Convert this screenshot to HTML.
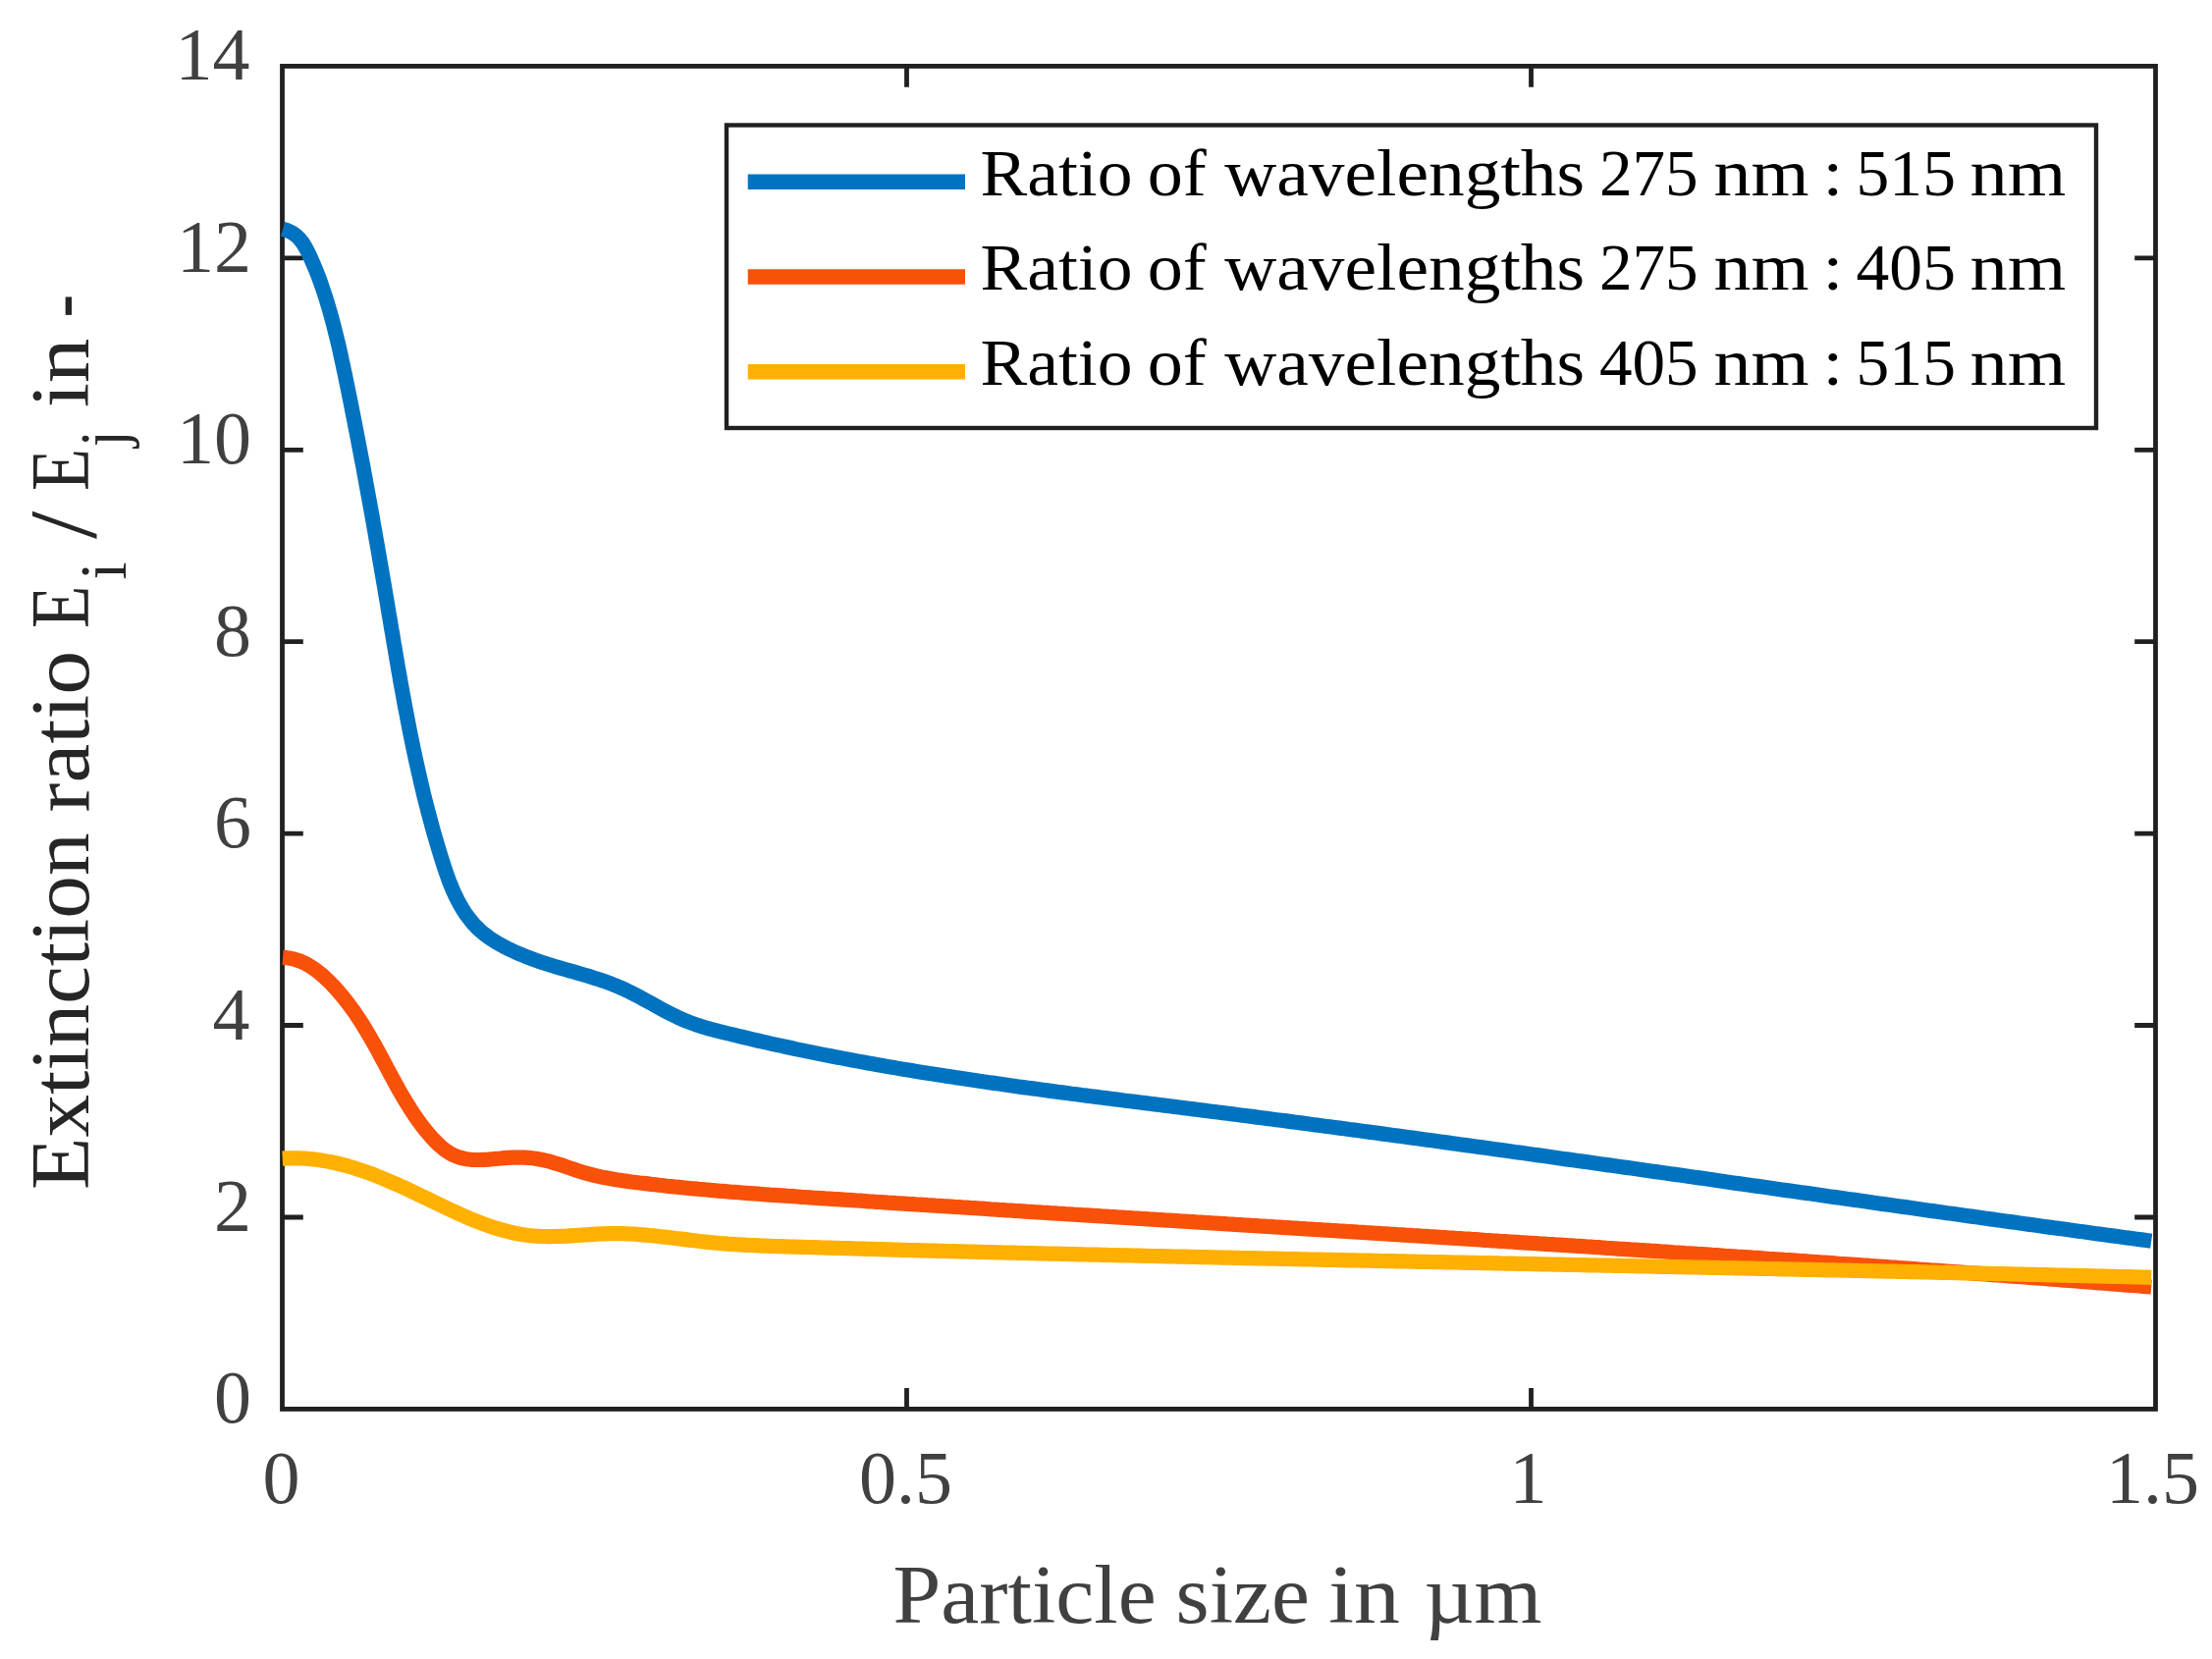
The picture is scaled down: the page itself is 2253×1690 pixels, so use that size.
<!DOCTYPE html>
<html lang="en"><head><meta charset="utf-8"><title>Extinction ratio versus particle size</title>
<style>html,body{margin:0;padding:0;background:#fff;overflow:hidden}svg{display:block}text{font-family:'Liberation Serif', 'DejaVu Serif', serif;white-space:pre}</style></head><body>
<svg width="2253" height="1690" viewBox="0 0 2253 1690">
<rect x="0" y="0" width="2253" height="1690" fill="#ffffff"/>
<g fill="none" stroke="#202020" stroke-width="4.8" stroke-linecap="butt" stroke-linejoin="miter">
<rect x="287.5" y="67.4" width="1908.0" height="1368.0"/>
<path d="M923.5,1435.4 v-21.3 M923.5,67.4 v21.3 M1559.5,1435.4 v-21.3 M1559.5,67.4 v21.3 M287.5,1240.0 h21.3 M2195.5,1240.0 h-21.3 M287.5,1044.5 h21.3 M2195.5,1044.5 h-21.3 M287.5,849.1 h21.3 M2195.5,849.1 h-21.3 M287.5,653.7 h21.3 M2195.5,653.7 h-21.3 M287.5,458.3 h21.3 M2195.5,458.3 h-21.3 M287.5,262.8 h21.3 M2195.5,262.8 h-21.3"/>
</g>
<g fill="none" stroke-width="15.2" stroke-linecap="butt" stroke-linejoin="round">
<path stroke="#0073C0" d="M288.1,233.4 L292.9,234.8 L297.4,237.0 L301.5,239.9 L305.1,243.4 L308.2,247.3 L310.8,251.5 L313.2,255.9 L315.4,260.4 L317.4,265.0 L319.4,269.6 L321.3,274.2 L323.2,278.8 L325.0,283.5 L326.7,288.2 L328.3,292.9 L329.9,297.6 L331.5,302.4 L333.0,307.2 L334.4,311.9 L335.8,316.7 L337.2,321.6 L338.5,326.4 L339.8,331.2 L341.0,336.1 L342.2,340.9 L343.4,345.8 L344.6,350.6 L345.7,355.5 L346.8,360.4 L347.8,365.3 L348.9,370.1 L349.9,375.0 L351.0,379.9 L352.0,384.8 L353.0,389.7 L354.0,394.6 L355.0,399.5 L356.0,404.4 L357.0,409.3 L358.0,414.2 L358.9,419.1 L359.9,424.0 L360.9,428.9 L361.8,433.8 L362.8,438.7 L363.7,443.6 L364.7,448.5 L365.6,453.5 L366.6,458.4 L367.5,463.3 L368.4,468.2 L369.4,473.1 L370.3,478.0 L371.2,482.9 L372.1,487.8 L373.0,492.8 L373.9,497.7 L374.8,502.6 L375.7,507.5 L376.6,512.4 L377.5,517.3 L378.4,522.3 L379.3,527.2 L380.1,532.1 L381.0,537.0 L381.9,541.9 L382.7,546.9 L383.6,551.8 L384.5,556.7 L385.3,561.6 L386.2,566.6 L387.0,571.5 L387.9,576.4 L388.7,581.3 L389.6,586.3 L390.4,591.2 L391.3,596.1 L392.1,601.1 L392.9,606.0 L393.8,610.9 L394.6,615.8 L395.4,620.8 L396.2,625.7 L397.1,630.6 L397.9,635.6 L398.7,640.5 L399.6,645.4 L400.4,650.3 L401.2,655.3 L402.1,660.2 L402.9,665.1 L403.7,670.1 L404.6,675.0 L405.4,679.9 L406.3,684.8 L407.2,689.8 L408.0,694.7 L408.9,699.6 L409.8,704.5 L410.7,709.4 L411.6,714.4 L412.5,719.3 L413.4,724.2 L414.4,729.1 L415.3,734.0 L416.3,738.9 L417.2,743.8 L418.2,748.7 L419.2,753.6 L420.2,758.5 L421.2,763.4 L422.3,768.3 L423.3,773.2 L424.4,778.1 L425.5,782.9 L426.6,787.8 L427.7,792.7 L428.8,797.6 L430.0,802.4 L431.1,807.3 L432.3,812.1 L433.5,817.0 L434.8,821.8 L436.0,826.7 L437.3,831.5 L438.6,836.3 L439.9,841.2 L441.2,846.0 L442.6,850.8 L444.0,855.6 L445.4,860.4 L446.8,865.2 L448.3,870.0 L449.7,874.7 L451.3,879.5 L452.8,884.2 L454.4,889.0 L456.1,893.7 L457.8,898.4 L459.7,903.0 L461.6,907.6 L463.7,912.2 L465.9,916.7 L468.3,921.1 L470.8,925.4 L473.4,929.6 L476.3,933.7 L479.4,937.7 L482.6,941.5 L486.1,945.1 L489.7,948.5 L493.5,951.7 L497.5,954.7 L501.7,957.5 L505.9,960.2 L510.3,962.6 L514.7,965.0 L519.1,967.2 L523.7,969.3 L528.2,971.4 L532.9,973.3 L537.5,975.1 L542.2,976.9 L546.9,978.6 L551.6,980.2 L556.4,981.7 L561.1,983.2 L565.9,984.7 L570.7,986.1 L575.5,987.5 L580.3,988.9 L585.1,990.2 L589.9,991.6 L594.7,993.0 L599.5,994.4 L604.3,995.9 L609.1,997.4 L613.8,999.0 L618.5,1000.7 L623.2,1002.4 L627.8,1004.3 L632.4,1006.3 L637.0,1008.3 L641.5,1010.5 L645.9,1012.8 L650.4,1015.1 L654.8,1017.4 L659.2,1019.8 L663.5,1022.2 L667.9,1024.7 L672.3,1027.1 L676.7,1029.4 L681.1,1031.7 L685.6,1034.0 L690.1,1036.2 L694.6,1038.2 L699.2,1040.2 L703.9,1042.0 L708.6,1043.7 L713.4,1045.2 L718.1,1046.7 L723.0,1048.1 L727.8,1049.3 L732.6,1050.6 L737.5,1051.8 L742.3,1053.0 L747.2,1054.2 L752.0,1055.4 L756.9,1056.5 L761.8,1057.7 L766.6,1058.8 L771.5,1060.0 L776.4,1061.1 L781.2,1062.2 L786.1,1063.3 L791.0,1064.4 L795.9,1065.4 L800.8,1066.5 L805.7,1067.5 L810.5,1068.6 L815.4,1069.6 L820.3,1070.6 L825.2,1071.6 L830.1,1072.6 L835.0,1073.6 L839.9,1074.6 L844.8,1075.5 L849.7,1076.5 L854.7,1077.4 L859.6,1078.4 L864.5,1079.3 L869.4,1080.2 L874.3,1081.1 L879.2,1082.0 L884.1,1082.9 L889.1,1083.8 L894.0,1084.7 L898.9,1085.5 L903.8,1086.4 L908.8,1087.2 L913.7,1088.1 L918.6,1088.9 L923.5,1089.7 L928.5,1090.6 L933.4,1091.4 L938.3,1092.2 L943.3,1093.0 L948.2,1093.7 L953.1,1094.5 L958.1,1095.3 L963.0,1096.1 L968.0,1096.8 L972.9,1097.6 L977.9,1098.3 L982.8,1099.1 L987.7,1099.8 L992.7,1100.5 L997.6,1101.3 L1002.6,1102.0 L1007.5,1102.7 L1012.5,1103.4 L1017.4,1104.1 L1022.4,1104.8 L1027.3,1105.5 L1032.3,1106.2 L1037.2,1106.9 L1042.2,1107.6 L1047.1,1108.2 L1052.1,1108.9 L1057.0,1109.6 L1062.0,1110.3 L1066.9,1110.9 L1071.9,1111.6 L1076.8,1112.2 L1081.8,1112.9 L1086.8,1113.5 L1091.7,1114.2 L1096.7,1114.8 L1101.6,1115.5 L1106.6,1116.1 L1111.5,1116.7 L1116.5,1117.4 L1121.5,1118.0 L1126.4,1118.6 L1131.4,1119.3 L1136.3,1119.9 L1141.3,1120.5 L1146.3,1121.2 L1151.2,1121.8 L1156.2,1122.4 L1161.1,1123.0 L1166.1,1123.6 L1171.1,1124.3 L1176.0,1124.9 L1181.0,1125.5 L1185.9,1126.1 L1190.9,1126.8 L1195.9,1127.4 L1200.8,1128.0 L1205.8,1128.6 L1210.7,1129.2 L1215.7,1129.9 L1220.7,1130.5 L1225.6,1131.1 L1230.6,1131.7 L1235.5,1132.4 L1240.5,1133.0 L1245.4,1133.6 L1250.4,1134.3 L1255.4,1134.9 L1260.3,1135.5 L1265.3,1136.2 L1270.2,1136.8 L1275.2,1137.4 L1280.2,1138.1 L1285.1,1138.7 L1290.1,1139.4 L1295.0,1140.0 L1300.0,1140.7 L1304.9,1141.3 L1309.9,1141.9 L1314.9,1142.6 L1319.8,1143.2 L1324.8,1143.9 L1329.7,1144.5 L1334.7,1145.2 L1339.6,1145.9 L1344.6,1146.5 L1349.5,1147.2 L1354.5,1147.8 L1359.5,1148.5 L1364.4,1149.1 L1369.4,1149.8 L1374.3,1150.5 L1379.3,1151.1 L1384.2,1151.8 L1389.2,1152.5 L1394.1,1153.1 L1399.1,1153.8 L1404.0,1154.4 L1409.0,1155.1 L1413.9,1155.8 L1418.9,1156.5 L1423.9,1157.1 L1428.8,1157.8 L1433.8,1158.5 L1438.7,1159.1 L1443.7,1159.8 L1448.6,1160.5 L1453.6,1161.2 L1458.5,1161.8 L1463.5,1162.5 L1468.4,1163.2 L1473.4,1163.9 L1478.3,1164.6 L1483.3,1165.2 L1488.2,1165.9 L1493.2,1166.6 L1498.1,1167.3 L1503.1,1168.0 L1508.0,1168.6 L1513.0,1169.3 L1518.0,1170.0 L1522.9,1170.7 L1527.9,1171.4 L1532.8,1172.1 L1537.8,1172.8 L1542.7,1173.5 L1547.7,1174.1 L1552.6,1174.8 L1557.6,1175.5 L1562.5,1176.2 L1567.5,1176.9 L1572.4,1177.6 L1577.4,1178.3 L1582.3,1179.0 L1587.3,1179.7 L1592.2,1180.4 L1597.2,1181.1 L1602.1,1181.8 L1607.1,1182.5 L1612.0,1183.1 L1617.0,1183.8 L1621.9,1184.5 L1626.9,1185.2 L1631.8,1185.9 L1636.8,1186.6 L1641.7,1187.3 L1646.7,1188.0 L1651.6,1188.7 L1656.6,1189.4 L1661.5,1190.1 L1666.5,1190.8 L1671.4,1191.5 L1676.4,1192.2 L1681.3,1192.9 L1686.3,1193.6 L1691.2,1194.3 L1696.2,1195.0 L1701.1,1195.7 L1706.1,1196.4 L1711.0,1197.1 L1716.0,1197.8 L1720.9,1198.5 L1725.8,1199.2 L1730.8,1199.9 L1735.7,1200.6 L1740.7,1201.3 L1745.6,1202.0 L1750.6,1202.7 L1755.5,1203.4 L1760.5,1204.2 L1765.4,1204.9 L1770.4,1205.6 L1775.3,1206.3 L1780.3,1207.0 L1785.2,1207.7 L1790.2,1208.4 L1795.1,1209.1 L1800.1,1209.8 L1805.0,1210.5 L1810.0,1211.2 L1814.9,1211.9 L1819.9,1212.6 L1824.8,1213.3 L1829.8,1214.0 L1834.7,1214.7 L1839.7,1215.4 L1844.6,1216.1 L1849.6,1216.8 L1854.5,1217.5 L1859.5,1218.2 L1864.4,1218.9 L1869.4,1219.6 L1874.3,1220.3 L1879.3,1221.0 L1884.2,1221.7 L1889.2,1222.4 L1894.1,1223.1 L1899.1,1223.8 L1904.0,1224.5 L1909.0,1225.2 L1913.9,1225.9 L1918.9,1226.6 L1923.8,1227.3 L1928.8,1228.0 L1933.7,1228.7 L1938.7,1229.4 L1943.6,1230.1 L1948.6,1230.8 L1953.5,1231.5 L1958.5,1232.2 L1963.4,1232.9 L1968.4,1233.6 L1973.3,1234.3 L1978.3,1235.0 L1983.2,1235.7 L1988.2,1236.3 L1993.1,1237.0 L1998.1,1237.7 L2003.0,1238.4 L2008.0,1239.1 L2012.9,1239.8 L2017.9,1240.5 L2022.8,1241.2 L2027.8,1241.9 L2032.7,1242.6 L2037.7,1243.2 L2042.6,1243.9 L2047.6,1244.6 L2052.5,1245.3 L2057.5,1246.0 L2062.4,1246.7 L2067.4,1247.4 L2072.3,1248.0 L2077.3,1248.7 L2082.2,1249.4 L2087.2,1250.1 L2092.1,1250.8 L2097.1,1251.4 L2102.0,1252.1 L2107.0,1252.8 L2111.9,1253.5 L2116.9,1254.2 L2121.9,1254.8 L2126.8,1255.5 L2131.8,1256.2 L2136.7,1256.9 L2141.7,1257.5 L2146.6,1258.2 L2151.6,1258.9 L2156.5,1259.5 L2161.5,1260.2 L2166.4,1260.9 L2171.4,1261.5 L2176.3,1262.2 L2181.3,1262.9 L2186.2,1263.5 L2191.2,1264.2"/>
<path stroke="#F9500A" d="M288.1,975.4 L292.1,975.7 L296.1,976.3 L300.0,977.2 L303.9,978.4 L307.6,979.9 L311.3,981.6 L314.8,983.6 L318.2,985.7 L321.5,988.0 L324.7,990.5 L327.8,993.0 L330.8,995.7 L333.7,998.5 L336.6,1001.3 L339.4,1004.2 L342.1,1007.2 L344.8,1010.2 L347.4,1013.3 L350.0,1016.4 L352.5,1019.5 L354.9,1022.7 L357.3,1026.0 L359.7,1029.2 L362.0,1032.5 L364.3,1035.9 L366.5,1039.2 L368.6,1042.6 L370.8,1046.1 L372.9,1049.5 L374.9,1053.0 L377.0,1056.4 L379.0,1059.9 L381.0,1063.4 L382.9,1067.0 L384.9,1070.5 L386.8,1074.0 L388.7,1077.6 L390.6,1081.1 L392.5,1084.7 L394.4,1088.3 L396.3,1091.8 L398.2,1095.4 L400.1,1098.9 L402.0,1102.4 L404.0,1106.0 L405.9,1109.5 L407.9,1113.0 L409.9,1116.5 L412.0,1120.0 L414.1,1123.4 L416.2,1126.8 L418.3,1130.2 L420.5,1133.6 L422.8,1137.0 L425.1,1140.3 L427.4,1143.5 L429.9,1146.8 L432.3,1150.0 L434.9,1153.1 L437.5,1156.2 L440.1,1159.2 L442.9,1162.1 L445.7,1165.0 L448.7,1167.7 L451.8,1170.3 L455.0,1172.7 L458.4,1174.9 L462.0,1176.8 L465.7,1178.3 L469.5,1179.5 L473.5,1180.4 L477.4,1181.0 L481.4,1181.4 L485.5,1181.5 L489.5,1181.5 L493.5,1181.3 L497.6,1181.1 L501.6,1180.7 L505.6,1180.3 L509.6,1180.0 L513.6,1179.6 L517.6,1179.3 L521.7,1179.2 L525.7,1179.1 L529.7,1179.1 L533.7,1179.2 L537.8,1179.4 L541.8,1179.8 L545.8,1180.3 L549.7,1181.0 L553.7,1181.8 L557.6,1182.7 L561.5,1183.7 L565.4,1184.9 L569.2,1186.1 L573.1,1187.3 L576.9,1188.6 L580.7,1189.9 L584.5,1191.2 L588.3,1192.5 L592.2,1193.7 L596.0,1194.9 L599.9,1195.9 L603.8,1197.0 L607.7,1197.9 L611.7,1198.8 L615.6,1199.6 L619.6,1200.3 L623.5,1201.0 L627.5,1201.7 L631.5,1202.3 L635.5,1202.9 L639.5,1203.4 L643.5,1204.0 L647.5,1204.5 L651.5,1205.0 L655.5,1205.4 L659.5,1205.9 L663.5,1206.4 L667.5,1206.8 L671.5,1207.3 L675.5,1207.7 L679.5,1208.2 L683.5,1208.6 L687.5,1209.0 L691.5,1209.4 L695.5,1209.8 L699.5,1210.2 L703.6,1210.6 L707.6,1210.9 L711.6,1211.3 L715.6,1211.7 L719.6,1212.0 L723.6,1212.4 L727.6,1212.7 L731.7,1213.1 L735.7,1213.4 L739.7,1213.7 L743.7,1214.1 L747.7,1214.4 L751.7,1214.7 L755.8,1215.0 L759.8,1215.3 L763.8,1215.6 L767.8,1215.9 L771.8,1216.2 L775.8,1216.5 L779.9,1216.8 L783.9,1217.1 L787.9,1217.3 L791.9,1217.6 L795.9,1217.9 L800.0,1218.2 L804.0,1218.5 L808.0,1218.7 L812.0,1219.0 L816.1,1219.3 L820.1,1219.5 L824.1,1219.8 L828.1,1220.1 L832.1,1220.3 L836.2,1220.6 L840.2,1220.9 L844.2,1221.1 L848.2,1221.4 L852.2,1221.6 L856.3,1221.9 L860.3,1222.2 L864.3,1222.4 L868.3,1222.7 L872.3,1223.0 L876.4,1223.2 L880.4,1223.5 L884.4,1223.8 L888.4,1224.0 L892.5,1224.3 L896.5,1224.5 L900.5,1224.8 L904.5,1225.1 L908.5,1225.3 L912.6,1225.6 L916.6,1225.8 L920.6,1226.1 L924.6,1226.4 L928.6,1226.6 L932.7,1226.9 L936.7,1227.1 L940.7,1227.4 L944.7,1227.7 L948.8,1227.9 L952.8,1228.2 L956.8,1228.4 L960.8,1228.7 L964.8,1228.9 L968.9,1229.2 L972.9,1229.5 L976.9,1229.7 L980.9,1230.0 L985.0,1230.2 L989.0,1230.5 L993.0,1230.7 L997.0,1231.0 L1001.0,1231.2 L1005.1,1231.5 L1009.1,1231.8 L1013.1,1232.0 L1017.1,1232.3 L1021.1,1232.5 L1025.2,1232.8 L1029.2,1233.0 L1033.2,1233.3 L1037.2,1233.5 L1041.3,1233.8 L1045.3,1234.1 L1049.3,1234.3 L1053.3,1234.6 L1057.3,1234.8 L1061.4,1235.1 L1065.4,1235.3 L1069.4,1235.6 L1073.4,1235.8 L1077.5,1236.1 L1081.5,1236.3 L1085.5,1236.6 L1089.5,1236.8 L1093.5,1237.1 L1097.6,1237.3 L1101.6,1237.6 L1105.6,1237.8 L1109.6,1238.1 L1113.7,1238.4 L1117.7,1238.6 L1121.7,1238.9 L1125.7,1239.1 L1129.7,1239.4 L1133.8,1239.6 L1137.8,1239.9 L1141.8,1240.1 L1145.8,1240.4 L1149.8,1240.6 L1153.9,1240.9 L1157.9,1241.1 L1161.9,1241.4 L1165.9,1241.6 L1170.0,1241.9 L1174.0,1242.1 L1178.0,1242.4 L1182.0,1242.6 L1186.0,1242.9 L1190.1,1243.1 L1194.1,1243.4 L1198.1,1243.6 L1202.1,1243.9 L1206.2,1244.1 L1210.2,1244.4 L1214.2,1244.6 L1218.2,1244.9 L1222.2,1245.1 L1226.3,1245.4 L1230.3,1245.6 L1234.3,1245.9 L1238.3,1246.1 L1242.4,1246.4 L1246.4,1246.6 L1250.4,1246.9 L1254.4,1247.1 L1258.4,1247.4 L1262.5,1247.6 L1266.5,1247.9 L1270.5,1248.1 L1274.5,1248.4 L1278.6,1248.6 L1282.6,1248.9 L1286.6,1249.1 L1290.6,1249.4 L1294.6,1249.6 L1298.7,1249.9 L1302.7,1250.1 L1306.7,1250.4 L1310.7,1250.6 L1314.8,1250.9 L1318.8,1251.1 L1322.8,1251.4 L1326.8,1251.6 L1330.8,1251.9 L1334.9,1252.1 L1338.9,1252.4 L1342.9,1252.6 L1346.9,1252.9 L1351.0,1253.1 L1355.0,1253.4 L1359.0,1253.6 L1363.0,1253.9 L1367.0,1254.1 L1371.1,1254.4 L1375.1,1254.6 L1379.1,1254.9 L1383.1,1255.2 L1387.2,1255.4 L1391.2,1255.7 L1395.2,1255.9 L1399.2,1256.2 L1403.2,1256.4 L1407.3,1256.7 L1411.3,1256.9 L1415.3,1257.2 L1419.3,1257.4 L1423.4,1257.7 L1427.4,1257.9 L1431.4,1258.2 L1435.4,1258.4 L1439.4,1258.7 L1443.5,1258.9 L1447.5,1259.2 L1451.5,1259.4 L1455.5,1259.7 L1459.5,1259.9 L1463.6,1260.2 L1467.6,1260.5 L1471.6,1260.7 L1475.6,1261.0 L1479.7,1261.2 L1483.7,1261.5 L1487.7,1261.7 L1491.7,1262.0 L1495.7,1262.2 L1499.8,1262.5 L1503.8,1262.7 L1507.8,1263.0 L1511.8,1263.3 L1515.9,1263.5 L1519.9,1263.8 L1523.9,1264.0 L1527.9,1264.3 L1531.9,1264.5 L1536.0,1264.8 L1540.0,1265.0 L1544.0,1265.3 L1548.0,1265.6 L1552.0,1265.8 L1556.1,1266.1 L1560.1,1266.3 L1564.1,1266.6 L1568.1,1266.9 L1572.2,1267.1 L1576.2,1267.4 L1580.2,1267.6 L1584.2,1267.9 L1588.2,1268.1 L1592.3,1268.4 L1596.3,1268.7 L1600.3,1268.9 L1604.3,1269.2 L1608.4,1269.4 L1612.4,1269.7 L1616.4,1270.0 L1620.4,1270.2 L1624.4,1270.5 L1628.5,1270.7 L1632.5,1271.0 L1636.5,1271.3 L1640.5,1271.5 L1644.5,1271.8 L1648.6,1272.1 L1652.6,1272.3 L1656.6,1272.6 L1660.6,1272.9 L1664.7,1273.1 L1668.7,1273.4 L1672.7,1273.6 L1676.7,1273.9 L1680.7,1274.2 L1684.8,1274.4 L1688.8,1274.7 L1692.8,1275.0 L1696.8,1275.2 L1700.8,1275.5 L1704.9,1275.8 L1708.9,1276.0 L1712.9,1276.3 L1716.9,1276.6 L1720.9,1276.8 L1725.0,1277.1 L1729.0,1277.4 L1733.0,1277.6 L1737.0,1277.9 L1741.1,1278.2 L1745.1,1278.5 L1749.1,1278.7 L1753.1,1279.0 L1757.1,1279.3 L1761.2,1279.5 L1765.2,1279.8 L1769.2,1280.1 L1773.2,1280.3 L1777.2,1280.6 L1781.3,1280.9 L1785.3,1281.2 L1789.3,1281.4 L1793.3,1281.7 L1797.3,1282.0 L1801.4,1282.3 L1805.4,1282.5 L1809.4,1282.8 L1813.4,1283.1 L1817.4,1283.4 L1821.5,1283.6 L1825.5,1283.9 L1829.5,1284.2 L1833.5,1284.5 L1837.5,1284.7 L1841.6,1285.0 L1845.6,1285.3 L1849.6,1285.6 L1853.6,1285.9 L1857.6,1286.1 L1861.7,1286.4 L1865.7,1286.7 L1869.7,1287.0 L1873.7,1287.3 L1877.7,1287.5 L1881.8,1287.8 L1885.8,1288.1 L1889.8,1288.4 L1893.8,1288.7 L1897.8,1289.0 L1901.9,1289.2 L1905.9,1289.5 L1909.9,1289.8 L1913.9,1290.1 L1917.9,1290.4 L1922.0,1290.7 L1926.0,1291.0 L1930.0,1291.2 L1934.0,1291.5 L1938.0,1291.8 L1942.1,1292.1 L1946.1,1292.4 L1950.1,1292.7 L1954.1,1293.0 L1958.1,1293.3 L1962.2,1293.6 L1966.2,1293.9 L1970.2,1294.1 L1974.2,1294.4 L1978.2,1294.7 L1982.3,1295.0 L1986.3,1295.3 L1990.3,1295.6 L1994.3,1295.9 L1998.3,1296.2 L2002.4,1296.5 L2006.4,1296.8 L2010.4,1297.1 L2014.4,1297.4 L2018.4,1297.7 L2022.4,1298.0 L2026.5,1298.3 L2030.5,1298.6 L2034.5,1298.9 L2038.5,1299.2 L2042.5,1299.5 L2046.6,1299.8 L2050.6,1300.1 L2054.6,1300.4 L2058.6,1300.7 L2062.6,1301.0 L2066.7,1301.3 L2070.7,1301.6 L2074.7,1301.9 L2078.7,1302.2 L2082.7,1302.5 L2086.7,1302.8 L2090.8,1303.1 L2094.8,1303.4 L2098.8,1303.8 L2102.8,1304.1 L2106.8,1304.4 L2110.9,1304.7 L2114.9,1305.0 L2118.9,1305.3 L2122.9,1305.6 L2126.9,1305.9 L2130.9,1306.2 L2135.0,1306.6 L2139.0,1306.9 L2143.0,1307.2 L2147.0,1307.5 L2151.0,1307.8 L2155.0,1308.1 L2159.1,1308.4 L2163.1,1308.8 L2167.1,1309.1 L2171.1,1309.4 L2175.1,1309.7 L2179.1,1310.0 L2183.2,1310.4 L2187.2,1310.7 L2191.2,1311.0"/>
<path stroke="#FFB000" d="M287.7,1180.1 L291.5,1179.9 L295.4,1179.8 L299.2,1179.8 L303.1,1179.8 L306.9,1180.0 L310.8,1180.2 L314.6,1180.5 L318.4,1180.9 L322.2,1181.3 L326.0,1181.8 L329.8,1182.4 L333.6,1183.1 L337.4,1183.8 L341.2,1184.6 L344.9,1185.5 L348.7,1186.4 L352.4,1187.4 L356.1,1188.5 L359.8,1189.5 L363.4,1190.7 L367.1,1191.9 L370.7,1193.1 L374.4,1194.4 L378.0,1195.7 L381.6,1197.1 L385.1,1198.5 L388.7,1199.9 L392.3,1201.4 L395.8,1202.9 L399.3,1204.4 L402.9,1206.0 L406.4,1207.5 L409.9,1209.1 L413.4,1210.7 L416.9,1212.4 L420.3,1214.0 L423.8,1215.6 L427.3,1217.3 L430.7,1219.0 L434.2,1220.6 L437.7,1222.3 L441.1,1224.0 L444.6,1225.7 L448.1,1227.3 L451.5,1229.0 L455.0,1230.7 L458.5,1232.3 L462.0,1233.9 L465.4,1235.5 L469.0,1237.1 L472.5,1238.7 L476.0,1240.2 L479.5,1241.7 L483.1,1243.2 L486.7,1244.6 L490.3,1246.0 L493.9,1247.3 L497.5,1248.6 L501.1,1249.9 L504.8,1251.0 L508.5,1252.2 L512.2,1253.2 L515.9,1254.2 L519.6,1255.1 L523.4,1256.0 L527.1,1256.7 L530.9,1257.4 L534.7,1258.0 L538.5,1258.5 L542.4,1258.9 L546.2,1259.2 L550.0,1259.4 L553.9,1259.5 L557.7,1259.6 L561.6,1259.6 L565.4,1259.5 L569.3,1259.4 L573.1,1259.3 L576.9,1259.1 L580.8,1258.8 L584.6,1258.6 L588.5,1258.4 L592.3,1258.1 L596.1,1257.8 L600.0,1257.6 L603.8,1257.3 L607.6,1257.1 L611.5,1256.9 L615.3,1256.8 L619.2,1256.7 L623.0,1256.6 L626.9,1256.6 L630.7,1256.6 L634.6,1256.7 L638.4,1256.8 L642.2,1257.0 L646.1,1257.2 L649.9,1257.5 L653.8,1257.8 L657.6,1258.1 L661.4,1258.5 L665.2,1258.8 L669.1,1259.2 L672.9,1259.7 L676.7,1260.1 L680.5,1260.5 L684.4,1261.0 L688.2,1261.5 L692.0,1261.9 L695.8,1262.4 L699.6,1262.9 L703.4,1263.4 L707.3,1263.8 L711.1,1264.3 L714.9,1264.7 L718.7,1265.1 L722.5,1265.5 L726.4,1265.9 L730.2,1266.2 L734.0,1266.6 L737.9,1266.9 L741.7,1267.2 L745.5,1267.4 L749.4,1267.7 L753.2,1267.9 L757.1,1268.1 L760.9,1268.4 L764.7,1268.5 L768.6,1268.7 L772.4,1268.9 L776.3,1269.1 L780.1,1269.2 L784.0,1269.3 L787.8,1269.5 L791.6,1269.6 L795.5,1269.7 L799.3,1269.8 L803.2,1270.0 L807.0,1270.1 L810.9,1270.2 L814.7,1270.3 L818.5,1270.4 L822.4,1270.5 L826.2,1270.6 L830.1,1270.7 L833.9,1270.8 L837.8,1271.0 L841.6,1271.1 L845.5,1271.2 L849.3,1271.3 L853.1,1271.4 L857.0,1271.5 L860.8,1271.6 L864.7,1271.7 L868.5,1271.8 L872.4,1272.0 L876.2,1272.1 L880.1,1272.2 L883.9,1272.3 L887.7,1272.4 L891.6,1272.5 L895.4,1272.6 L899.3,1272.7 L903.1,1272.8 L907.0,1272.9 L910.8,1273.1 L914.7,1273.2 L918.5,1273.3 L922.3,1273.4 L926.2,1273.5 L930.0,1273.6 L933.9,1273.7 L937.7,1273.8 L941.6,1273.9 L945.4,1274.0 L949.3,1274.1 L953.1,1274.2 L956.9,1274.3 L960.8,1274.4 L964.6,1274.5 L968.5,1274.6 L972.3,1274.7 L976.2,1274.8 L980.0,1274.9 L983.9,1275.0 L987.7,1275.1 L991.5,1275.2 L995.4,1275.3 L999.2,1275.4 L1003.1,1275.5 L1006.9,1275.6 L1010.8,1275.7 L1014.6,1275.8 L1018.5,1275.9 L1022.3,1276.0 L1026.2,1276.1 L1030.0,1276.1 L1033.8,1276.2 L1037.7,1276.3 L1041.5,1276.4 L1045.4,1276.5 L1049.2,1276.6 L1053.1,1276.7 L1056.9,1276.8 L1060.8,1276.9 L1064.6,1277.0 L1068.4,1277.1 L1072.3,1277.2 L1076.1,1277.2 L1080.0,1277.3 L1083.8,1277.4 L1087.7,1277.5 L1091.5,1277.6 L1095.4,1277.7 L1099.2,1277.8 L1103.0,1277.9 L1106.9,1278.0 L1110.7,1278.1 L1114.6,1278.1 L1118.4,1278.2 L1122.3,1278.3 L1126.1,1278.4 L1130.0,1278.5 L1133.8,1278.6 L1137.7,1278.7 L1141.5,1278.8 L1145.3,1278.8 L1149.2,1278.9 L1153.0,1279.0 L1156.9,1279.1 L1160.7,1279.2 L1164.6,1279.3 L1168.4,1279.4 L1172.3,1279.5 L1176.1,1279.5 L1179.9,1279.6 L1183.8,1279.7 L1187.6,1279.8 L1191.5,1279.9 L1195.3,1280.0 L1199.2,1280.1 L1203.0,1280.1 L1206.9,1280.2 L1210.7,1280.3 L1214.6,1280.4 L1218.4,1280.5 L1222.2,1280.6 L1226.1,1280.6 L1229.9,1280.7 L1233.8,1280.8 L1237.6,1280.9 L1241.5,1281.0 L1245.3,1281.1 L1249.2,1281.1 L1253.0,1281.2 L1256.8,1281.3 L1260.7,1281.4 L1264.5,1281.5 L1268.4,1281.6 L1272.2,1281.6 L1276.1,1281.7 L1279.9,1281.8 L1283.8,1281.9 L1287.6,1282.0 L1291.5,1282.1 L1295.3,1282.1 L1299.1,1282.2 L1303.0,1282.3 L1306.8,1282.4 L1310.7,1282.5 L1314.5,1282.5 L1318.4,1282.6 L1322.2,1282.7 L1326.1,1282.8 L1329.9,1282.9 L1333.8,1283.0 L1337.6,1283.0 L1341.4,1283.1 L1345.3,1283.2 L1349.1,1283.3 L1353.0,1283.4 L1356.8,1283.4 L1360.7,1283.5 L1364.5,1283.6 L1368.4,1283.7 L1372.2,1283.8 L1376.0,1283.8 L1379.9,1283.9 L1383.7,1284.0 L1387.6,1284.1 L1391.4,1284.2 L1395.3,1284.2 L1399.1,1284.3 L1403.0,1284.4 L1406.8,1284.5 L1410.7,1284.6 L1414.5,1284.6 L1418.3,1284.7 L1422.2,1284.8 L1426.0,1284.9 L1429.9,1284.9 L1433.7,1285.0 L1437.6,1285.1 L1441.4,1285.2 L1445.3,1285.3 L1449.1,1285.3 L1452.9,1285.4 L1456.8,1285.5 L1460.6,1285.6 L1464.5,1285.7 L1468.3,1285.7 L1472.2,1285.8 L1476.0,1285.9 L1479.9,1286.0 L1483.7,1286.0 L1487.6,1286.1 L1491.4,1286.2 L1495.2,1286.3 L1499.1,1286.4 L1502.9,1286.4 L1506.8,1286.5 L1510.6,1286.6 L1514.5,1286.7 L1518.3,1286.7 L1522.2,1286.8 L1526.0,1286.9 L1529.9,1287.0 L1533.7,1287.1 L1537.5,1287.1 L1541.4,1287.2 L1545.2,1287.3 L1549.1,1287.4 L1552.9,1287.4 L1556.8,1287.5 L1560.6,1287.6 L1564.5,1287.7 L1568.3,1287.8 L1572.1,1287.8 L1576.0,1287.9 L1579.8,1288.0 L1583.7,1288.1 L1587.5,1288.1 L1591.4,1288.2 L1595.2,1288.3 L1599.1,1288.4 L1602.9,1288.5 L1606.8,1288.5 L1610.6,1288.6 L1614.4,1288.7 L1618.3,1288.8 L1622.1,1288.8 L1626.0,1288.9 L1629.8,1289.0 L1633.7,1289.1 L1637.5,1289.2 L1641.4,1289.2 L1645.2,1289.3 L1649.1,1289.4 L1652.9,1289.5 L1656.7,1289.5 L1660.6,1289.6 L1664.4,1289.7 L1668.3,1289.8 L1672.1,1289.9 L1676.0,1289.9 L1679.8,1290.0 L1683.7,1290.1 L1687.5,1290.2 L1691.3,1290.3 L1695.2,1290.3 L1699.0,1290.4 L1702.9,1290.5 L1706.7,1290.6 L1710.6,1290.6 L1714.4,1290.7 L1718.3,1290.8 L1722.1,1290.9 L1726.0,1291.0 L1729.8,1291.0 L1733.6,1291.1 L1737.5,1291.2 L1741.3,1291.3 L1745.2,1291.4 L1749.0,1291.4 L1752.9,1291.5 L1756.7,1291.6 L1760.6,1291.7 L1764.4,1291.7 L1768.3,1291.8 L1772.1,1291.9 L1775.9,1292.0 L1779.8,1292.1 L1783.6,1292.1 L1787.5,1292.2 L1791.3,1292.3 L1795.2,1292.4 L1799.0,1292.5 L1802.9,1292.5 L1806.7,1292.6 L1810.5,1292.7 L1814.4,1292.8 L1818.2,1292.9 L1822.1,1292.9 L1825.9,1293.0 L1829.8,1293.1 L1833.6,1293.2 L1837.5,1293.3 L1841.3,1293.3 L1845.2,1293.4 L1849.0,1293.5 L1852.8,1293.6 L1856.7,1293.7 L1860.5,1293.8 L1864.4,1293.8 L1868.2,1293.9 L1872.1,1294.0 L1875.9,1294.1 L1879.8,1294.2 L1883.6,1294.2 L1887.5,1294.3 L1891.3,1294.4 L1895.1,1294.5 L1899.0,1294.6 L1902.8,1294.7 L1906.7,1294.7 L1910.5,1294.8 L1914.4,1294.9 L1918.2,1295.0 L1922.1,1295.1 L1925.9,1295.2 L1929.7,1295.2 L1933.6,1295.3 L1937.4,1295.4 L1941.3,1295.5 L1945.1,1295.6 L1949.0,1295.7 L1952.8,1295.7 L1956.7,1295.8 L1960.5,1295.9 L1964.4,1296.0 L1968.2,1296.1 L1972.0,1296.2 L1975.9,1296.3 L1979.7,1296.3 L1983.6,1296.4 L1987.4,1296.5 L1991.3,1296.6 L1995.1,1296.7 L1999.0,1296.8 L2002.8,1296.9 L2006.6,1296.9 L2010.5,1297.0 L2014.3,1297.1 L2018.2,1297.2 L2022.0,1297.3 L2025.9,1297.4 L2029.7,1297.5 L2033.6,1297.6 L2037.4,1297.6 L2041.3,1297.7 L2045.1,1297.8 L2048.9,1297.9 L2052.8,1298.0 L2056.6,1298.1 L2060.5,1298.2 L2064.3,1298.3 L2068.2,1298.3 L2072.0,1298.4 L2075.9,1298.5 L2079.7,1298.6 L2083.5,1298.7 L2087.4,1298.8 L2091.2,1298.9 L2095.1,1299.0 L2098.9,1299.1 L2102.8,1299.2 L2106.6,1299.3 L2110.5,1299.3 L2114.3,1299.4 L2118.1,1299.5 L2122.0,1299.6 L2125.8,1299.7 L2129.7,1299.8 L2133.5,1299.9 L2137.4,1300.0 L2141.2,1300.1 L2145.1,1300.2 L2148.9,1300.3 L2152.8,1300.4 L2156.6,1300.5 L2160.4,1300.5 L2164.3,1300.6 L2168.1,1300.7 L2172.0,1300.8 L2175.8,1300.9 L2179.7,1301.0 L2183.5,1301.1 L2187.4,1301.2 L2191.2,1301.3"/>
</g>
<rect x="740" y="127.5" width="1395" height="308.5" fill="#ffffff" stroke="#202020" stroke-width="4.4"/>
<line x1="761.7" y1="185.3" x2="983" y2="185.3" stroke="#0073C0" stroke-width="15.4"/>
<text y="198.9" font-size="68" fill="#000000"><tspan x="998.5" textLength="154.9" lengthAdjust="spacingAndGlyphs">Ratio</tspan> <tspan x="1168.7" textLength="60.0" lengthAdjust="spacingAndGlyphs">of</tspan> <tspan x="1247.2" textLength="366.9" lengthAdjust="spacingAndGlyphs">wavelengths</tspan> <tspan x="1628.9" textLength="100.7" lengthAdjust="spacingAndGlyphs">275</tspan> <tspan x="1745.6" textLength="97.0" lengthAdjust="spacingAndGlyphs">nm</tspan> <tspan x="1856.4" textLength="20.8" lengthAdjust="spacingAndGlyphs">:</tspan> <tspan x="1890.6" textLength="101.3" lengthAdjust="spacingAndGlyphs">515</tspan> <tspan x="2006.5" textLength="97.8" lengthAdjust="spacingAndGlyphs">nm</tspan></text>
<line x1="761.7" y1="282.0" x2="983" y2="282.0" stroke="#F9500A" stroke-width="15.4"/>
<text y="295.2" font-size="68" fill="#000000"><tspan x="998.5" textLength="154.9" lengthAdjust="spacingAndGlyphs">Ratio</tspan> <tspan x="1168.7" textLength="60.0" lengthAdjust="spacingAndGlyphs">of</tspan> <tspan x="1247.2" textLength="366.9" lengthAdjust="spacingAndGlyphs">wavelengths</tspan> <tspan x="1628.9" textLength="100.7" lengthAdjust="spacingAndGlyphs">275</tspan> <tspan x="1745.6" textLength="97.0" lengthAdjust="spacingAndGlyphs">nm</tspan> <tspan x="1856.4" textLength="20.8" lengthAdjust="spacingAndGlyphs">:</tspan> <tspan x="1890.6" textLength="101.3" lengthAdjust="spacingAndGlyphs">405</tspan> <tspan x="2006.5" textLength="97.8" lengthAdjust="spacingAndGlyphs">nm</tspan></text>
<line x1="761.7" y1="378.8" x2="983" y2="378.8" stroke="#FFB000" stroke-width="15.4"/>
<text y="391.9" font-size="68" fill="#000000"><tspan x="998.5" textLength="154.9" lengthAdjust="spacingAndGlyphs">Ratio</tspan> <tspan x="1168.7" textLength="60.0" lengthAdjust="spacingAndGlyphs">of</tspan> <tspan x="1247.2" textLength="366.9" lengthAdjust="spacingAndGlyphs">wavelengths</tspan> <tspan x="1628.9" textLength="100.7" lengthAdjust="spacingAndGlyphs">405</tspan> <tspan x="1745.6" textLength="97.0" lengthAdjust="spacingAndGlyphs">nm</tspan> <tspan x="1856.4" textLength="20.8" lengthAdjust="spacingAndGlyphs">:</tspan> <tspan x="1890.6" textLength="101.3" lengthAdjust="spacingAndGlyphs">515</tspan> <tspan x="2006.5" textLength="97.8" lengthAdjust="spacingAndGlyphs">nm</tspan></text>
<text x="256" y="1449.4" font-size="76" fill="#404040" text-anchor="end">0</text>
<text x="256" y="1254.0" font-size="76" fill="#404040" text-anchor="end">2</text>
<text x="254.6" y="1058.5" font-size="76" fill="#404040" text-anchor="end">4</text>
<text x="256" y="863.1" font-size="76" fill="#404040" text-anchor="end">6</text>
<text x="256" y="667.7" font-size="76" fill="#404040" text-anchor="end">8</text>
<text x="256" y="472.3" font-size="76" fill="#404040" text-anchor="end">10</text>
<text x="256" y="276.8" font-size="76" fill="#404040" text-anchor="end">12</text>
<text x="254.6" y="81.4" font-size="76" fill="#404040" text-anchor="end">14</text>
<text x="286.5" y="1531.2" font-size="76" fill="#404040" text-anchor="middle">0</text>
<text x="922.5" y="1531.2" font-size="76" fill="#404040" text-anchor="middle">0.5</text>
<text x="1556.5" y="1531.2" font-size="76" fill="#404040" text-anchor="middle">1</text>
<text x="2192.5" y="1531.2" font-size="76" fill="#404040" text-anchor="middle">1.5</text>
<text y="1653.2" font-size="84" fill="#404040"><tspan x="909.5" textLength="268.1" lengthAdjust="spacingAndGlyphs">Particle</tspan> <tspan x="1197.6" textLength="136.2" lengthAdjust="spacingAndGlyphs">size</tspan> <tspan x="1352.9" textLength="73.0" lengthAdjust="spacingAndGlyphs">in</tspan> <tspan x="1450.5" textLength="120.0" lengthAdjust="spacingAndGlyphs">µm</tspan></text>
<g transform="translate(89.5,1210.4) rotate(-90)" fill="#262626">
<text><tspan x="-1.5" y="0" font-size="84" textLength="363.5" lengthAdjust="spacingAndGlyphs">Extinction</tspan> <tspan x="383.0" y="0" font-size="84" textLength="164.5" lengthAdjust="spacingAndGlyphs">ratio</tspan> <tspan x="570.5" y="0" font-size="84" textLength="43.4" lengthAdjust="spacingAndGlyphs">E</tspan><tspan x="620.0" y="38.7" font-size="67" textLength="17.9" lengthAdjust="spacingAndGlyphs">i</tspan> <tspan x="661.3" y="7.5" font-size="98" textLength="28.2" lengthAdjust="spacingAndGlyphs">/</tspan> <tspan x="710.5" y="0" font-size="84" textLength="43.0" lengthAdjust="spacingAndGlyphs">E</tspan><tspan x="755.2" y="38.7" font-size="67" textLength="16.8" lengthAdjust="spacingAndGlyphs">j</tspan> <tspan x="795.2" y="0" font-size="84" textLength="70.6" lengthAdjust="spacingAndGlyphs">in</tspan> <tspan x="886.9" y="0" font-size="84" textLength="23.6" lengthAdjust="spacingAndGlyphs">-</tspan></text>
</g>
</svg></body></html>
